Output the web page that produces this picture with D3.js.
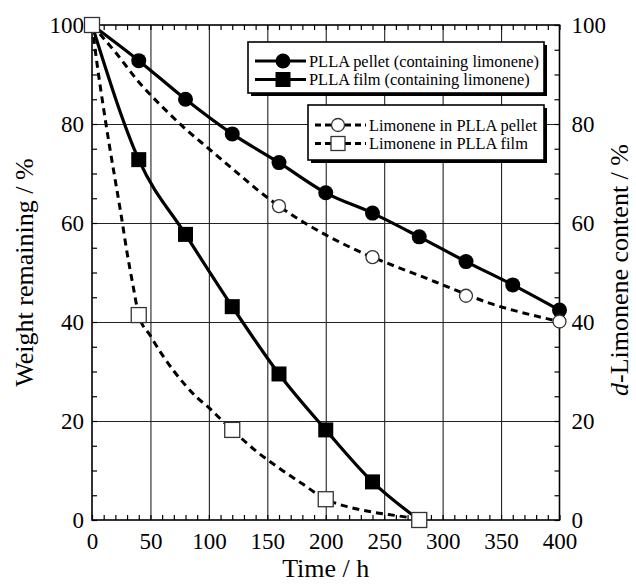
<!DOCTYPE html>
<html>
<head>
<meta charset="utf-8">
<script src="https://cdn.jsdelivr.net/npm/d3@7"></script>
<style>
  body { margin: 0; background: #fff; }
  text { font-family: "Liberation Serif", "Times New Roman", serif; fill: #000; }
</style>
</head>
<body>
<script>
// ---- data ----
const timePellet = [0, 40, 80, 120, 160, 200, 240, 280, 320, 360, 400];
const weightPellet = [100, 92.8, 85.0, 78.0, 72.2, 66.1, 62.0, 57.2, 52.2, 47.5, 42.4];

const timeFilm = [0, 40, 80, 120, 160, 200, 240, 280];
const weightFilm = [100, 72.8, 57.7, 43.1, 29.5, 18.2, 7.7, 0];

const timeLimPellet = [0, 160, 240, 320, 400];
const limPellet = [100, 63.4, 53.1, 45.3, 40.1];

const timeLimFilm = [0, 40, 120, 200, 280];
const limFilm = [100, 41.4, 18.2, 4.2, 0];

// dashed fitted curves
const fitTimeLimPellet = [0, 20, 40, 60, 80, 100, 120, 140, 160, 180, 200, 220, 240, 260, 280, 300, 320, 340, 360, 380, 400];
const fitLimPellet = [100, 94.5, 88.5, 83.5, 79, 75, 71, 67, 63.4, 60.3, 57.6, 55.2, 53.1, 51.2, 49.4, 47.5, 45.6, 43.8, 42.4, 41.2, 40.1];

const fitTimeLimFilm = [0, 5, 10, 15, 20, 25, 30, 35, 40, 50, 60, 70, 80, 90, 100, 110, 120, 140, 160, 180, 200, 220, 240, 260, 280];
const fitLimFilm = [100, 91, 83, 75.5, 68.5, 61.5, 54, 47.5, 41.4, 37.2, 33.4, 30.1, 27.2, 24.7, 22.7, 20.4, 18.2, 14, 10.5, 7.3, 4.2, 2.6, 1.6, 0.9, 0.2];

const xTicks = [0, 50, 100, 150, 200, 250, 300, 350, 400];
const yTicks = [0, 20, 40, 60, 80, 100];

const legendTop = ["PLLA pellet (containing limonene)", "PLLA film (containing limonene)"];
const legendBottom = ["Limonene in PLLA pellet", "Limonene in PLLA film"];

// ---- size ----
const W = 636, H = 584;
const pl = { l: 92, r: 559.5, t: 25, b: 520 };

const svg = d3.select("body").append("svg").attr("width", W).attr("height", H);

const x = d3.scaleLinear().domain([0, 400]).range([pl.l, pl.r]);
const y = d3.scaleLinear().domain([0, 100]).range([pl.b, pl.t]);

const zip = (a, b) => a.map((t, i) => [t, b[i]]);

/*-------- grid --------*/
const gx = svg.append("g")
  .attr("transform", `translate(0,${pl.b})`)
  .call(d3.axisBottom(x).tickValues(xTicks.slice(1, -1)).tickSize(-(pl.b - pl.t)).tickFormat(""));
const gy = svg.append("g")
  .attr("transform", `translate(${pl.l},0)`)
  .call(d3.axisLeft(y).tickValues(yTicks.slice(1, -1)).tickSize(-(pl.r - pl.l)).tickFormat(""));
[gx, gy].forEach(g => {
  g.select(".domain").remove();
  g.selectAll("line").attr("stroke", "#222").attr("stroke-width", 1.1);
});

/*-------- minor ticks (inward) --------*/
const minorX = d3.range(0, 401, 10);
const minorY = d3.range(0, 101, 5);
const tickGroups = [
  svg.append("g").attr("transform", `translate(0,${pl.b})`).call(d3.axisBottom(x).tickValues(minorX).tickSize(-5).tickFormat("")),
  svg.append("g").attr("transform", `translate(0,${pl.t})`).call(d3.axisTop(x).tickValues(minorX).tickSize(-5).tickFormat("")),
  svg.append("g").attr("transform", `translate(${pl.l},0)`).call(d3.axisLeft(y).tickValues(minorY).tickSize(-5).tickFormat("")),
  svg.append("g").attr("transform", `translate(${pl.r},0)`).call(d3.axisRight(y).tickValues(minorY).tickSize(-5).tickFormat(""))
];
tickGroups.forEach(g => {
  g.select(".domain").remove();
  g.selectAll("line").attr("stroke", "#000").attr("stroke-width", 1.2);
});

svg.append("rect")
  .attr("x", pl.l).attr("y", pl.t)
  .attr("width", pl.r - pl.l).attr("height", pl.b - pl.t)
  .attr("fill", "none").attr("stroke", "#000").attr("stroke-width", 1.6);

/*-------- tick labels --------*/
const lblB = svg.append("g").attr("transform", `translate(0,${pl.b})`)
  .call(d3.axisBottom(x).tickValues(xTicks).tickSize(0).tickPadding(13));
const lblL = svg.append("g").attr("transform", `translate(${pl.l},0)`)
  .call(d3.axisLeft(y).tickValues(yTicks).tickSize(0).tickPadding(8));
const lblR = svg.append("g").attr("transform", `translate(${pl.r},0)`)
  .call(d3.axisRight(y).tickValues(yTicks).tickSize(0).tickPadding(12));
[lblB, lblL, lblR].forEach(g => {
  g.select(".domain").remove();
  g.selectAll("text").attr("font-family", "Liberation Serif").attr("font-size", 23).attr("fill", "#000");
});

/*-------- axis titles --------*/
svg.append("text")
  .attr("x", (pl.l + pl.r) / 2).attr("y", 577)
  .attr("text-anchor", "middle").attr("font-size", 26)
  .text("Time / h");
svg.append("text")
  .attr("transform", `translate(33,${(pl.t + pl.b) / 2}) rotate(-90)`)
  .attr("text-anchor", "middle").attr("font-size", 26)
  .text("Weight remaining / %");
const rt = svg.append("text")
  .attr("transform", `translate(628,270) rotate(-90)`)
  .attr("text-anchor", "middle").attr("font-size", 26);
rt.append("tspan").attr("font-style", "italic").text("d");
rt.append("tspan").text("-Limonene content / %");

/*-------- curves --------*/
const smooth = d3.line().x(d => x(d[0])).y(d => y(d[1])).curve(d3.curveMonotoneX);

svg.append("path").datum(zip(fitTimeLimPellet, fitLimPellet))
  .attr("d", smooth).attr("fill", "none").attr("stroke", "#000")
  .attr("stroke-width", 3).attr("stroke-dasharray", "7,5");
svg.append("path").datum(zip(fitTimeLimFilm, fitLimFilm))
  .attr("d", smooth).attr("fill", "none").attr("stroke", "#000")
  .attr("stroke-width", 3).attr("stroke-dasharray", "7,5");
svg.append("path").datum(zip(timePellet, weightPellet))
  .attr("d", smooth).attr("fill", "none").attr("stroke", "#000").attr("stroke-width", 3.2);
svg.append("path").datum(zip(timeFilm, weightFilm))
  .attr("d", smooth).attr("fill", "none").attr("stroke", "#000").attr("stroke-width", 3.2);

/*-------- markers --------*/
const MS = 15;
svg.append("g").selectAll("circle")
  .data(zip(timePellet, weightPellet).slice(1)).enter().append("circle")
  .attr("cx", d => x(d[0])).attr("cy", d => y(d[1])).attr("r", 7.5).attr("fill", "#000");
svg.append("g").selectAll("rect")
  .data(zip(timeFilm, weightFilm).slice(1)).enter().append("rect")
  .attr("x", d => x(d[0]) - MS / 2).attr("y", d => y(d[1]) - MS / 2)
  .attr("width", MS).attr("height", MS).attr("fill", "#000");
svg.append("g").selectAll("circle")
  .data(zip(timeLimPellet, limPellet)).enter().append("circle")
  .attr("cx", d => x(d[0])).attr("cy", d => y(d[1])).attr("r", 6.5)
  .attr("fill", "#fff").attr("stroke", "#333").attr("stroke-width", 1.3);
svg.append("g").selectAll("rect")
  .data(zip(timeLimFilm, limFilm)).enter().append("rect")
  .attr("x", d => x(d[0]) - 7.5).attr("y", d => y(d[1]) - 7.5)
  .attr("width", 15).attr("height", 15)
  .attr("fill", "#fff").attr("stroke", "#333").attr("stroke-width", 1.3);

/*-------- legends --------*/
function legendBox(x0, y0, w, h) {
  svg.append("rect").attr("x", x0 + 3).attr("y", y0 + 3).attr("width", w).attr("height", h).attr("fill", "#000");
  svg.append("rect").attr("x", x0).attr("y", y0).attr("width", w).attr("height", h)
    .attr("fill", "#fff").attr("stroke", "#000").attr("stroke-width", 1.6);
}

legendBox(248, 42, 296, 51);
legendTop.forEach((name, i) => {
  const yy = 61 + i * 18.5;
  svg.append("line").attr("x1", 255).attr("x2", 306).attr("y1", yy).attr("y2", yy)
    .attr("stroke", "#000").attr("stroke-width", 3);
  if (i === 0) {
    svg.append("circle").attr("cx", 283).attr("cy", yy).attr("r", 7.5).attr("fill", "#000");
  } else {
    svg.append("rect").attr("x", 283 - 7.5).attr("y", yy - 7.5).attr("width", 15).attr("height", 15).attr("fill", "#000");
  }
  svg.append("text").attr("x", 309).attr("y", yy + 5.5).attr("font-size", 16.4).text(name);
});

legendBox(308, 105, 236, 55);
legendBottom.forEach((name, i) => {
  const yy = 125 + i * 18.5;
  svg.append("line").attr("x1", 315).attr("x2", 366).attr("y1", yy).attr("y2", yy)
    .attr("stroke", "#000").attr("stroke-width", 3).attr("stroke-dasharray", "6,4");
  if (i === 0) {
    svg.append("circle").attr("cx", 338).attr("cy", yy).attr("r", 6.5)
      .attr("fill", "#fff").attr("stroke", "#333").attr("stroke-width", 1.3);
  } else {
    svg.append("rect").attr("x", 338 - 7).attr("y", yy - 7).attr("width", 14).attr("height", 14)
      .attr("fill", "#fff").attr("stroke", "#333").attr("stroke-width", 1.3);
  }
  svg.append("text").attr("x", 369).attr("y", yy + 5.5).attr("font-size", 16.4).text(name);
});
</script>
</body>
</html>
